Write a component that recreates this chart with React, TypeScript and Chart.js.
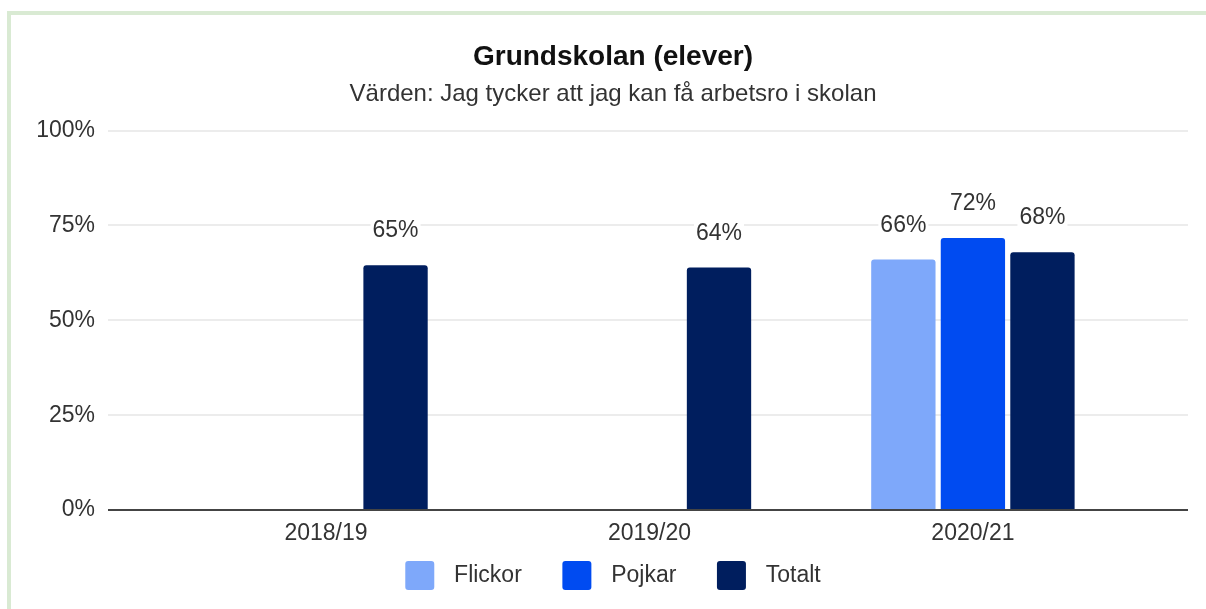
import React, { useEffect, useRef } from "react";
import { Chart, registerables } from "chart.js";

Chart.register(...registerables);

const categories = ["2018/19", "2019/20", "2020/21"];
const flickor = [null, null, 66.0];
const pojkar = [null, null, 71.7];
const totalt = [64.5, 63.9, 67.9];
const seriesNames = ["Flickor", "Pojkar", "Totalt"];
const seriesColors = ["#7ea8fa", "#004bf1", "#001e5e"];
const yTicks = [0, 25, 50, 75, 100];

const FONT = "'Liberation Sans', Arial, sans-serif";

const valueLabels = {
  id: "valueLabels",
  afterDatasetsDraw(chart: any) {
    const ctx = chart.ctx;
    ctx.save();
    ctx.font = `23px ${FONT}`;
    ctx.textAlign = "center";
    ctx.textBaseline = "alphabetic";
    chart.data.datasets.forEach((ds: any, di: number) => {
      const meta = chart.getDatasetMeta(di);
      meta.data.forEach((bar: any, i: number) => {
        const v = ds.data[i]?.y;
        if (v == null) return;
        const txt = Math.round(v) + "%";
        const w = ctx.measureText(txt).width;
        const baseY = bar.y - 28;
        ctx.fillStyle = "#ffffff";
        ctx.fillRect(bar.x - w / 2 - 2, baseY - 19, w + 4, 24);
        ctx.fillStyle = "#333333";
        ctx.fillText(txt, bar.x, baseY);
      });
    });
    ctx.restore();
  },
};

export default function App() {
  const ref = useRef<HTMLCanvasElement | null>(null);
  useEffect(() => {
    if (!ref.current) return;
    const all = [flickor, pojkar, totalt];
    const chart = new Chart(ref.current, {
      type: "bar",
      data: {
        datasets: all.map((arr, k) => ({
          label: seriesNames[k],
          data: arr.map((v, i) => ({ x: i, y: v })),
          backgroundColor: seriesColors[k],
          borderRadius: { topLeft: 3, topRight: 3, bottomLeft: 0, bottomRight: 0 },
          borderSkipped: false,
          categoryPercentage: 0.645,
          barPercentage: 0.925,
        })),
      },
      plugins: [valueLabels],
      options: {
        animation: false,
        responsive: true,
        maintainAspectRatio: false,
        layout: { padding: { left: 38, right: 18, top: 0, bottom: 8.9 } },
        plugins: {
          title: {
            display: true,
            text: "Grundskolan (elever)",
            color: "#111111",
            font: { family: FONT, size: 28, weight: "bold" },
            padding: { top: 40, bottom: 0 },
          },
          subtitle: {
            display: true,
            text: "Värden: Jag tycker att jag kan få arbetsro i skolan",
            color: "#333333",
            font: { family: FONT, size: 24 },
            padding: { top: 6.3, bottom: 21.8 },
          },
          legend: {
            position: "bottom",
            labels: {
              boxWidth: 29,
              boxHeight: 29,
              padding: 15,
              useBorderRadius: true,
              borderRadius: 3,
              color: "#333333",
              font: { family: FONT, size: 23 },
              generateLabels: (c: any) => {
                const n = c.data.datasets.length;
                return c.data.datasets.map((ds: any, i: number) => ({
                  text: " \u200A" + ds.label + (i < n - 1 ? "    " : ""),
                  fillStyle: ds.backgroundColor,
                  strokeStyle: ds.backgroundColor,
                  lineWidth: 0,
                  borderRadius: 3,
                  datasetIndex: i,
                  hidden: false,
                  fontColor: "#333333",
                }));
              },
            },
          },
          tooltip: { enabled: false },
        },
        scales: {
          x: {
            type: "linear",
            min: -0.674,
            max: 2.665,
            offset: false,
            grid: { display: false, drawTicks: false, tickLength: 0 },
            border: { display: false },
            afterBuildTicks: (s: any) => {
              s.ticks = categories.map((_, i) => ({ value: i }));
            },
            afterFit: (s: any) => {
              s.height = 36;
            },
            ticks: {
              padding: 10,
              color: "#333333",
              font: { family: FONT, size: 23 },
              autoSkip: false,
              maxRotation: 0,
              callback: (v: any) => categories[Math.round(v)] ?? "",
            },
          },
          y: {
            min: 0,
            max: 100,
            afterBuildTicks: (s: any) => {
              s.ticks = yTicks.map((v) => ({ value: v }));
            },
            afterFit: (s: any) => {
              s.width = 70;
            },
            border: { display: false },
            grid: {
              drawTicks: false,
              color: (c: any) => (c.tick && c.tick.value === 0 ? "#444444" : "#ececec"),
              lineWidth: 2,
            },
            ticks: {
              padding: 13,
              color: "#333333",
              font: { family: FONT, size: 23 },
              callback: (v: any) => v + "%",
            },
          },
        },
      },
    } as any);
    return () => chart.destroy();
  }, []);

  return (
    <div style={{ position: "absolute", left: 0, top: 0, width: 1206, height: 609, background: "#ffffff" }}>
      <div
        style={{
          position: "absolute",
          left: 7,
          top: 11,
          width: 1199,
          height: 598,
          boxSizing: "border-box",
          borderLeft: "4px solid #d9ead3",
          borderTop: "4px solid #d9ead3",
        }}
      />
      <div style={{ position: "absolute", left: 0, top: 0, width: 1206, height: 609 }}>
        <canvas ref={ref} />
      </div>
    </div>
  );
}
